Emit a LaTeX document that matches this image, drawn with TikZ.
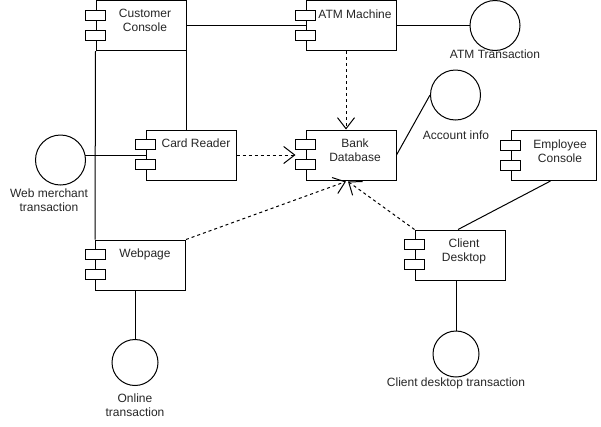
\documentclass[tikz,border=0pt]{standalone}
\usepackage{fontspec}
\setmainfont{Liberation Sans}
\usetikzlibrary{arrows.meta}
\tikzset{
  compbox/.style={draw, line width=1pt, fill=white, minimum width=90pt, minimum height=50pt, inner sep=0pt},
  portbox/.style={draw, line width=1pt, fill=white, minimum width=20pt, minimum height=10pt, inner sep=0pt},
  iface/.style={draw, line width=1pt, circle, inner sep=0pt},
  lbl/.style={font=\fontsize{12pt}{14pt}\selectfont, align=center, inner sep=0pt, text=black!85},
  conn/.style={line width=1pt},
  dep/.style={line width=1pt, dash pattern=on 3pt off 3pt, -{Straight Barb[length=11pt, width=17pt, line width=1pt]}},
}
\newcommand{\umlcomp}[3]{%
  \node[compbox] (#1) at (#2,#3) {};
  \node[portbox] (#1-p1) at ([yshift=-15pt]#1.north west) {};
  \node[portbox] (#1-p2) at ([yshift=-35pt]#1.north west) {};
}
\begin{document}
\begin{tikzpicture}[x=1pt, y=-1pt]
\useasboundingbox (0,0) rectangle (601,426);
% components
\umlcomp{cc}{141}{25.5}
\umlcomp{atm}{351}{25.5}
\umlcomp{cr}{191}{155}
\umlcomp{bd}{351}{155}
\umlcomp{web}{140.5}{265}
\umlcomp{cd}{460}{255}
\node[compbox, minimum width=85pt] (ec) at (553.5,155.5) {};
\node[portbox] (ec-p1) at ([yshift=-15pt]ec.north west) {};
\node[portbox] (ec-p2) at ([yshift=-35pt]ec.north west) {};
% component texts
\node[lbl] (cc-t) at (145,20.5) {Customer\\Console};
\node[lbl] (atm-t) at (355,14) {ATM Machine};
\node[lbl] (cr-t) at (196,143) {Card Reader};
\node[lbl] (bd-t) at (355,150.5) {Bank\\Database};
\node[lbl] (web-t) at (145,254) {Webpage};
\node[lbl] (cd-t) at (464,251) {Client\\Desktop};
\node[lbl] (ec-t) at (560,151.5) {Employee\\Console};
% interfaces
\node[iface, minimum size=50pt] (atmt) at (495,25.5) {};
\node[iface, minimum size=50pt] (ai) at (455.5,95) {};
\node[iface, minimum size=50pt] (wm) at (60.5,160) {};
\node[iface, minimum size=46pt] (ot) at (135,362.5) {};
\node[iface, minimum size=46pt] (cdt) at (456,354) {};
\node[lbl] (atmt-t) at (495,54) {ATM Transaction};
\node[lbl] (ai-t) at (456,135) {Account info};
\node[lbl] (wm-t) at (49,200) {Web merchant\\transaction};
\node[lbl] (ot-t) at (135,405.5) {Online\\transaction};
\node[lbl] (cdt-t) at (456,383) {Client desktop transaction};
% connectors
\coordinate (crtop) at (cc.south east |- cr.north);
\coordinate (wmend) at (cr.west -| wm.east);
\coordinate (webend) at (ot.north |- web.south);
\coordinate (cdend) at (cdt.north |- cd.south);
\draw[conn] (cc.east) -- (atm.west);
\draw[conn] (atm.east) -- (atmt.west);
\draw[conn] (cc.south west) -- (web.north west);
\draw[conn] (cc.south east) -- (crtop);
\draw[conn] (cr.west) -- ([xshift=-1pt]wmend);
\draw[conn] (webend) -- (ot.north);
\draw[conn] (bd.east) -- (ai.west);
\draw[conn] ([xshift=-3pt]ec.south) -- ([xshift=-2pt]cd.north);
\draw[conn] (cdend) -- (cdt.north);
\draw[dep] ([xshift=-5pt]atm.south) -- ([xshift=-5pt]bd.north);
\draw[dep] (cr.east) -- ([xshift=-10pt]bd.west);
\draw[dep] (cd.north west) -- ([xshift=-3pt,yshift=-1pt]bd.south);
\draw[dep] (web.north east) -- ([xshift=-5pt,yshift=-1pt]bd.south);
\end{tikzpicture}
\end{document}
